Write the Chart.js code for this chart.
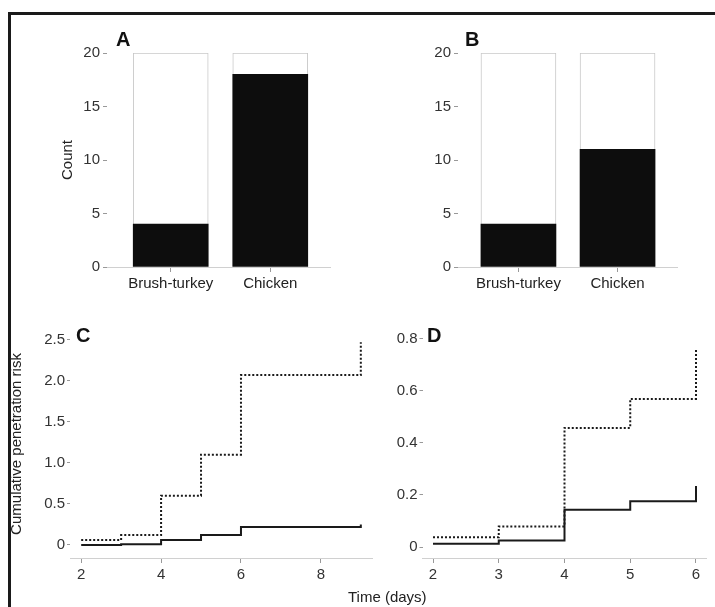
<!DOCTYPE html>
<html>
<head>
<meta charset="utf-8">
<script src="https://cdn.jsdelivr.net/npm/chart.js@4.4.1/dist/chart.umd.min.js"></script>
<style>
  html, body { margin: 0; padding: 0; background: #fff; }
  body { width: 715px; height: 607px; position: relative; overflow: hidden; font-family: "Liberation Sans", Arial, sans-serif; }
  canvas { position: absolute; }
  .frame { position: absolute; left: 8px; top: 12px; right: -5px; bottom: -5px; border-top: 3px solid #1a1a1a; border-left: 3px solid #1a1a1a; }
  .letter { position: absolute; font-weight: bold; font-size: 20px; color: #111; line-height: 20px; }
  .xtitle { position: absolute; font-size: 15px; color: #222; line-height: 16px; }
</style>
</head>
<body>
<div class="frame"></div>
<canvas id="chartA" width="357" height="300" style="left:0;top:0"></canvas>
<canvas id="chartB" width="358" height="300" style="left:357px;top:0"></canvas>
<canvas id="chartC" width="375" height="307" style="left:0;top:300px"></canvas>
<canvas id="chartD" width="340" height="307" style="left:375px;top:300px"></canvas>
<div class="letter" style="left:116px;top:29px">A</div>
<div class="letter" style="left:465px;top:29px">B</div>
<div class="letter" style="left:76px;top:325px">C</div>
<div class="letter" style="left:427px;top:325px">D</div>
<div class="xtitle" style="left:348px;top:589px">Time (days)</div>
<script>
// bar panels A and B
const categories = ['Brush-turkey', 'Chicken'];
const totalA = [20, 20];
const penetratedA = [4, 18];
const totalB = [20, 20];
const penetratedB = [4, 11];
const countTicks = [0, 5, 10, 15, 20];

// cumulative penetration risk, panel C
const daysC = [2, 3, 4, 5, 6, 9];
const dottedC = [0.06, 0.12, 0.6, 1.1, 2.07, 2.47];
const solidC = [0, 0.01, 0.06, 0.12, 0.22, 0.25];
const yTicksC = [0, 0.5, 1.0, 1.5, 2.0, 2.5];
const yLabelsC = ['0', '0.5', '1.0', '1.5', '2.0', '2.5'];
const xTicksC = [2, 4, 6, 8];

// panel D
const daysD = [2, 3, 4, 5, 6];
const dottedD = [0.038, 0.079, 0.457, 0.568, 0.76];
const solidD = [0.013, 0.025, 0.143, 0.176, 0.234];
const yTicksD = [0, 0.2, 0.4, 0.6, 0.8];
const yLabelsD = ['0', '0.2', '0.4', '0.6', '0.8'];
const xTicksD = [2, 3, 4, 5, 6];

Chart.defaults.font.family = '"Liberation Sans", Arial, sans-serif';
Chart.defaults.font.size = 15;
Chart.defaults.color = '#333';

const tickFont = { size: 15 };
const gridTicks = (len) => ({ offset: false, drawOnChartArea: false, drawTicks: true, tickLength: len, color: '#999', lineWidth: 1 });

function barChart(id, total, penetrated, opts) {
  const xs = categories.map((_, i) => i + 1);
  return new Chart(document.getElementById(id), {
    type: 'bar',
    data: {
      datasets: [
        {
          data: xs.map((x, i) => ({ x, y: penetrated[i] })),
          backgroundColor: '#0d0d0d',
          borderWidth: 0,
          barThickness: 75,
          grouped: false
        },
        {
          data: xs.map((x, i) => ({ x, y: total[i] })),
          backgroundColor: '#ffffff',
          borderColor: '#c8c8c8',
          borderWidth: 1,
          borderSkipped: 'bottom',
          barThickness: 75,
          grouped: false
        }
      ]
    },
    options: {
      responsive: false,
      animation: false,
      layout: { padding: opts.padding },
      plugins: { legend: { display: false }, tooltip: { enabled: false } },
      scales: {
        x: {
          type: 'linear',
          offset: false,
          min: opts.xmin,
          max: opts.xmax,
          afterBuildTicks: s => { s.ticks = xs.map(v => ({ value: v })); },
          afterFit: s => { s.height = 33; },
          ticks: { callback: (v, i) => categories[i], padding: 3, font: tickFont, color: '#222', maxRotation: 0, autoSkip: false },
          grid: gridTicks(5),
          border: { display: true, color: '#d0d0d0' }
        },
        y: {
          min: 0,
          max: 20,
          afterBuildTicks: s => { s.ticks = countTicks.map(v => ({ value: v })); },
          afterFit: s => { s.width = opts.yWidth; },
          ticks: { padding: 3, font: tickFont, color: '#333' },
          grid: gridTicks(4),
          border: { display: false },
          title: { display: !!opts.yTitle, text: opts.yTitle || '', font: { size: 15 }, color: '#222', padding: { top: 4, bottom: 4 } }
        }
      }
    }
  });
}

function stepChart(id, days, dotted, solid, opts) {
  return new Chart(document.getElementById(id), {
    type: 'line',
    data: {
      datasets: [
        {
          data: days.map((x, i) => ({ x, y: dotted[i] })),
          borderColor: '#1a1a1a',
          borderWidth: 2,
          borderDash: [2, 2],
          stepped: true,
          pointRadius: 0,
          fill: false
        },
        {
          data: days.map((x, i) => ({ x, y: solid[i] })),
          borderColor: '#1a1a1a',
          borderWidth: 2,
          stepped: true,
          pointRadius: 0,
          fill: false
        }
      ]
    },
    options: {
      responsive: false,
      animation: false,
      layout: { padding: opts.padding },
      plugins: { legend: { display: false }, tooltip: { enabled: false } },
      scales: {
        x: {
          type: 'linear',
          min: opts.xmin,
          max: opts.xmax,
          afterBuildTicks: s => { s.ticks = opts.xTicks.map(v => ({ value: v })); },
          afterFit: s => { s.height = 49; },
          ticks: { padding: 3, font: tickFont, color: '#333', maxRotation: 0, autoSkip: false },
          grid: gridTicks(5),
          border: { display: true, color: '#d0d0d0' }
        },
        y: {
          min: opts.ymin,
          max: opts.ymax,
          afterBuildTicks: s => { s.ticks = opts.yTicks.map(v => ({ value: v })); },
          afterFit: s => { s.width = opts.yWidth; },
          ticks: { callback: (v, i) => opts.yLabels[i], padding: 2, font: tickFont, color: '#333' },
          grid: gridTicks(3),
          border: { display: false },
          title: { display: !!opts.yTitle, text: opts.yTitle || '', font: { size: 15 }, color: '#222', padding: { top: 4, bottom: 4 } }
        }
      }
    }
  });
}

barChart('chartA', totalA, penetratedA, {
  padding: { left: 55, top: 53, right: 27, bottom: 0 },
  yWidth: 52, xmin: 0.36, xmax: 2.6, yTitle: 'Count'
});
barChart('chartB', totalB, penetratedB, {
  padding: { left: 0, top: 53, right: 38, bottom: 0 },
  yWidth: 101, xmin: 0.39, xmax: 2.6
});
stepChart('chartC', daysC, dottedC, solidC, {
  padding: { left: 4, top: 30, right: 3, bottom: 0 },
  yWidth: 66, xmin: 1.72, xmax: 9.28, ymin: -0.159, ymax: 2.62,
  xTicks: xTicksC, yTicks: yTicksC, yLabels: yLabelsC,
  yTitle: 'Cumulative penetration risk'
});
stepChart('chartD', daysD, dottedD, solidD, {
  padding: { left: 0, top: 28, right: 8.5, bottom: 0 },
  yWidth: 47.5, xmin: 1.84, xmax: 6.16, ymin: -0.042, ymax: 0.84,
  xTicks: xTicksD, yTicks: yTicksD, yLabels: yLabelsD
});
</script>
</body>
</html>
